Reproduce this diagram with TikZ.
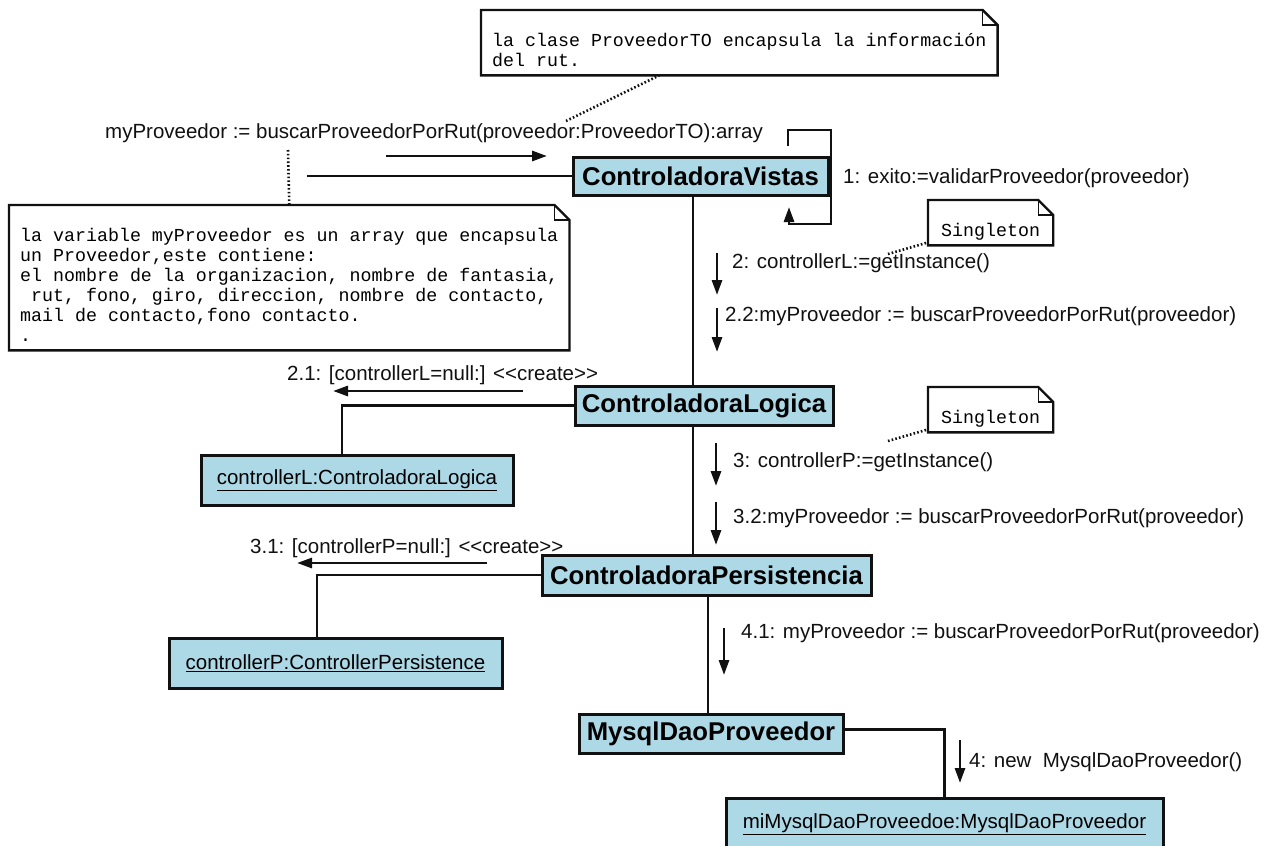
\documentclass[tikz,border=0pt]{standalone}
\usepackage{fontspec}
\setmainfont{Liberation Sans}
\newfontfamily\notefamily{Liberation Mono}
\usetikzlibrary{arrows.meta,calc}
\definecolor{umlblue}{HTML}{ADD8E6}
\definecolor{umlink}{HTML}{111111}
\newcommand{\lblfont}{\fontsize{20.5}{24}\selectfont}
\newcommand{\clsfont}{\fontsize{25.7}{30}\selectfont\bfseries}
\newcommand{\notefont}{\notefamily\fontsize{18.3}{20}\selectfont}
\newcommand{\crt}{<\kern0pt<create>\kern0pt>}
\tikzset{
  cls/.style={draw=umlink, fill=umlblue, line width=3pt, font=\clsfont, inner sep=0pt},
  obj/.style={cls, font=\lblfont},
  note/.style={anchor=north west, font=\notefont, align=left, inner xsep=11pt, inner ysep=2.5pt},
  notebox/.style={draw=umlink, line width=2.4pt},
  notefold/.style={draw=umlink, line width=1.3pt},
  lbl/.style={font=\lblfont, anchor=west, inner sep=0pt, text=umlink},
  link/.style={umlink, line width=2.8pt},
  msg/.style={link, -{Triangle[length=15pt,width=10pt]}},
  hint/.style={umlink, line width=2.6pt, dash pattern=on 1.6pt off 2.2pt},
}

\begin{document}
\begin{tikzpicture}[x=1pt,y=-1pt]
\useasboundingbox (0,0) rectangle (1280,846);
\fill[white] (0,0) rectangle (1280,846);
\clip (0,0) rectangle (1280,846);

% classes on the main chain
\node[cls, minimum width=255pt, minimum height=38pt] (vistas) at (700.5,176) {ControladoraVistas};
\node[cls, minimum width=258pt, minimum height=39pt] (logica) at (704,405.5) {ControladoraLogica};
\node[cls, minimum width=329pt, minimum height=40pt] (persist) at (706.5,575) {ControladoraPersistencia};
\node[cls, minimum width=264pt, minimum height=39pt] (dao) at (711,733.5) {MysqlDaoProveedor};

% created instances
\node[obj, minimum width=312pt, minimum height=50pt] (ctrll) at (357,480) {\underline{controllerL:ControladoraLogica}};
\node[obj, minimum width=333pt, minimum height=50pt] (ctrlp) at (335.5,663) {\underline{controllerP:ControllerPersistence}};
\node[obj, minimum width=437pt, minimum height=52pt] (daoobj) at (944.5,824) {\underline{miMysqlDaoProveedoe:MysqlDaoProveedor}};

% notes
\node[note] (notecls) at (481,10) {\strut\\la clase ProveedorTO encapsula la información\\del rut.\strut};
\node[note] (notevar) at (9,205) {\strut\\la variable myProveedor es un array que encapsula\\
  un Proveedor,este contiene:\\el nombre de la organizacion, nombre de fantasia,\\
  \ rut, fono, giro, direccion, nombre de contacto,\\mail de contacto,fono contacto.\\.\strut};
\node[note, inner xsep=13pt] (sglL) at (928,200) {\strut\\Singleton\strut};
\node[note, inner xsep=13pt] (sglP) at (928,387) {\strut\\Singleton\strut};

\foreach \n in {notecls,notevar,sglL,sglP} {
  \draw[notebox] (\n.south west) -- (\n.north west) -- ([xshift=-15pt]\n.north east)
    -- ([yshift=-15pt]\n.north east) -- (\n.south east) -- cycle;
  \draw[notefold] ([xshift=-15pt]\n.north east) |- ([yshift=-15pt]\n.north east);
}

% messages
\node[lbl] (msgret) at (105,133) {myProveedor := buscarProveedorPorRut(proveedor:ProveedorTO):array};
\node[lbl] (msg1) at (843,178) {1: exito:=validarProveedor(proveedor)};
\node[lbl] (msg2) at (732,263) {2: controllerL:=getInstance()};
\node[lbl] (msg22) at (725,316) {2.2:myProveedor := buscarProveedorPorRut(proveedor)};
\node[lbl] (msg21) at (287,375) {2.1: [controllerL=null:] \crt};
\node[lbl] (msg3) at (733,462) {3: controllerP:=getInstance()};
\node[lbl] (msg32) at (733,518) {3.2:myProveedor := buscarProveedorPorRut(proveedor)};
\node[lbl] (msg31) at (250,548) {3.1: [controllerP=null:] \crt};
\node[lbl] (msg41) at (741,633) {4.1: myProveedor := buscarProveedorPorRut(proveedor)};
\node[lbl] (msg4) at (969,762) {4: new\ \ MysqlDaoProveedor()};

% links
\coordinate (caller) at (307,176);
\draw[link] (caller) -- (vistas.west);
\draw[link] ([xshift=-7.5pt]vistas.south) -- ([xshift=-7.5pt]vistas.south |- logica.north);
\draw[link] ([xshift=-11pt]logica.south) -- ([xshift=-11pt]logica.south |- persist.north);
\draw[link] ([xshift=1.5pt]persist.south) -- ([xshift=1.5pt]persist.south |- dao.north);
\draw[link] (logica.west) -| ([xshift=-15pt]ctrll.north);
\draw[link] (persist.west) -| ([xshift=-18.5pt]ctrlp.north);
\draw[link] ([yshift=4pt]dao.east) -| (daoobj.north);

% self call on ControladoraVistas
\coordinate (loopa) at (788,146);
\coordinate (loopc) at (831,224);
\coordinate (loopb) at (789,207);
\draw[msg] (loopa) -- ++(0,-16) -| (loopc) -| (loopb);

% message arrows
\coordinate (r0-s) at (386,156);  \coordinate (r0-e) at (547,156);
\coordinate (r2-s) at (717,253);  \coordinate (r2-e) at (717,295);
\coordinate (r22-s) at (717,308); \coordinate (r22-e) at (717,352);
\coordinate (r21-s) at (523,391); \coordinate (r21-e) at (333,391);
\coordinate (r3-s) at (716,443);  \coordinate (r3-e) at (716,486);
\coordinate (r32-s) at (716,502); \coordinate (r32-e) at (716,545);
\coordinate (r31-s) at (487,563); \coordinate (r31-e) at (297,563);
\coordinate (r41-s) at (724,628); \coordinate (r41-e) at (724,675);
\coordinate (r4-s) at (960,740);  \coordinate (r4-e) at (960,783);
\foreach \m in {r0,r2,r22,r21,r3,r32,r31,r41,r4}
  \draw[msg] (\m-s) -- (\m-e);

% note anchors
\coordinate (clshint) at (566,121);
\coordinate (varhint) at (288,150);
\coordinate (sglLhint) at (888,254);
\coordinate (sglPhint) at (888,441);
\draw[hint] (clshint) -- ([xshift=-80pt]notecls.south);
\draw[hint] (varhint) -- (notevar.north);
\draw[hint] (sglLhint) -- ([yshift=3pt]sglL.south west);
\draw[hint] (sglPhint) -- ([yshift=3pt]sglP.south west);

\end{tikzpicture}
\end{document}
